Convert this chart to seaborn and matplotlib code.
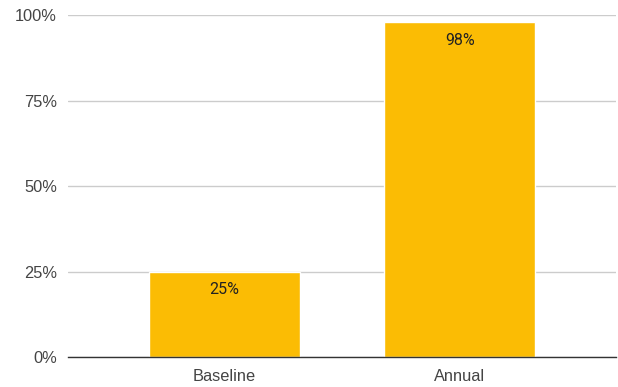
import matplotlib
matplotlib.use("Agg")
import matplotlib.pyplot as plt
from matplotlib.ticker import PercentFormatter
import seaborn as sns
import pandas as pd

categories = ["Baseline", "Annual"]
values = [25, 98]
y_ticks = [0, 25, 50, 75, 100]

sns.set_theme(style="white")
plt.rcParams["font.family"] = ["Liberation Sans", "DejaVu Sans"]

df = pd.DataFrame({"period": categories, "pct": values})

fig = plt.figure(figsize=(6.18, 3.87), dpi=100)
ax = fig.add_axes([0.110, 0.0775, 0.887, 0.8825])

sns.barplot(data=df, x="period", y="pct", color="#FBBC04", saturation=1,
            width=0.643, ax=ax, zorder=3)

ax.set_ylim(0, 100)
ax.set_xlim(-0.665, 1.665)
ax.set_yticks(y_ticks)
ax.yaxis.set_major_formatter(PercentFormatter(decimals=0))
ax.grid(axis="y", color="#cccccc", linewidth=1, zorder=0)
ax.set_xlabel("")
ax.set_ylabel("")

for side in ["top", "right", "left"]:
    ax.spines[side].set_visible(False)
ax.spines["bottom"].set_color("#333333")
ax.spines["bottom"].set_linewidth(1)
ax.spines["bottom"].set_zorder(4)

ax.tick_params(axis="both", length=0, labelsize=11.8, labelcolor="#444444")
ax.tick_params(axis="y", pad=8)
ax.tick_params(axis="x", pad=8.5)

for patch, v in zip(ax.patches, values):
    cx = patch.get_x() + patch.get_width() / 2
    ax.annotate(f"{v}%", xy=(cx, v), xytext=(0, -18), textcoords="offset pixels",
                ha="center", va="center", fontsize=11.5, color="#222222",
                family=["Roboto", "DejaVu Sans"], zorder=5)

fig.savefig("out.png", dpi=100)
